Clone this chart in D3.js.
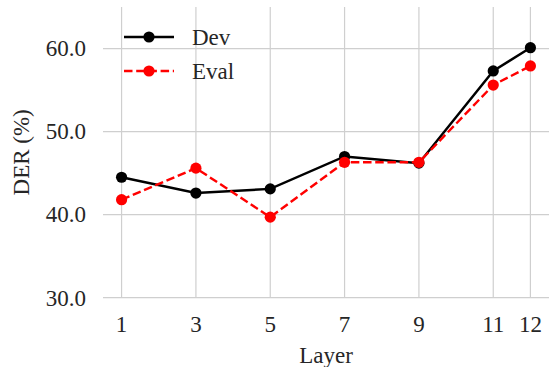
<!DOCTYPE html>
<html>
<head>
<meta charset="utf-8">
<script src="https://cdn.jsdelivr.net/npm/d3@7"></script>
<style>
  body { margin: 0; background: #fff; }
  svg text { font-family: "Times New Roman", "Liberation Serif", Times, serif; fill: #262626; }
</style>
</head>
<body>
<svg id="chart" width="549" height="367"></svg>
<script>
var layers = [1, 3, 5, 7, 9, 11, 12]
var devDer = [44.5, 42.6, 43.1, 47.0, 46.2, 57.3, 60.1]
var evalDer = [41.8, 45.6, 39.7, 46.3, 46.3, 55.6, 57.9]
var yTicks = [30, 40, 50, 60]

var series = [
  {name: "Dev", values: devDer, color: "#000000", dash: null},
  {name: "Eval", values: evalDer, color: "#ff0000", dash: "8.5,3.7"}
]

var svg = d3.select("#chart")
var plotLeft = 103, plotRight = 549, plotTop = 7, plotBottom = 297.7

var x = d3.scaleLinear().domain([0.5, 12.5]).range([plotLeft, plotRight])
var y = d3.scaleLinear().domain([30, 65]).range([plotBottom, plotTop])

// grid
svg.append("g").selectAll("line")
    .data(layers).enter()
    .append("line")
        .attr("x1", function(d){ return x(d) })
        .attr("x2", function(d){ return x(d) })
        .attr("y1", plotTop)
        .attr("y2", plotBottom)
        .style("stroke", "#cfcfcf")
        .style("stroke-width", 1.2)

svg.append("g").selectAll("line")
    .data(yTicks).enter()
    .append("line")
        .attr("x1", plotLeft)
        .attr("x2", plotRight)
        .attr("y1", function(d){ return y(d) })
        .attr("y2", function(d){ return y(d) })
        .style("stroke", "#cfcfcf")
        .style("stroke-width", 1.2)

// tick labels
svg.append("g").selectAll("text")
    .data(yTicks).enter()
    .append("text")
        .attr("x", 86)
        .attr("y", function(d){ return y(d) })
        .attr("dy", "0.34em")
        .attr("text-anchor", "end")
        .style("font-size", "23px")
        .text(function(d){ return d3.format(".1f")(d) })

svg.append("g").selectAll("text")
    .data(layers).enter()
    .append("text")
        .attr("x", function(d){ return x(d) })
        .attr("y", 332)
        .attr("text-anchor", "middle")
        .style("font-size", "23px")
        .text(function(d){ return d })

svg.append("text")
    .attr("x", (plotLeft + plotRight) / 2)
    .attr("y", 363)
    .attr("text-anchor", "middle")
    .style("font-size", "23px")
    .text("Layer")

svg.append("text")
    .attr("transform", "translate(29," + ((plotTop + plotBottom) / 2) + ") rotate(-90)")
    .attr("text-anchor", "middle")
    .style("font-size", "23px")
    .text("DER (%)")

// lines + markers
var line = d3.line()
    .x(function(d, i){ return x(layers[i]) })
    .y(function(d){ return y(d) })

series.forEach(function(s) {
    svg.append("path")
        .datum(s.values)
        .attr("d", line)
        .style("fill", "none")
        .style("stroke", s.color)
        .style("stroke-width", 2.4)
        .style("stroke-dasharray", s.dash)

    svg.append("g").selectAll("circle")
        .data(s.values).enter()
        .append("circle")
            .attr("cx", function(d, i){ return x(layers[i]) })
            .attr("cy", function(d){ return y(d) })
            .attr("r", 5.6)
            .style("fill", s.color)
})

// legend
var legend = svg.append("g").selectAll("g")
    .data(series).enter()
    .append("g")
        .attr("transform", function(d, i){ return "translate(124," + (37 + i * 34) + ")" })

legend.append("line")
    .attr("x1", 0)
    .attr("x2", 50)
    .style("stroke", function(d){ return d.color })
    .style("stroke-width", 2.4)
    .style("stroke-dasharray", function(d){ return d.dash })

legend.append("circle")
    .attr("cx", 25)
    .attr("r", 5.6)
    .style("fill", function(d){ return d.color })

legend.append("text")
    .attr("x", 68)
    .attr("dy", "0.34em")
    .style("font-size", "23px")
    .text(function(d){ return d.name })
</script>
</body>
</html>
